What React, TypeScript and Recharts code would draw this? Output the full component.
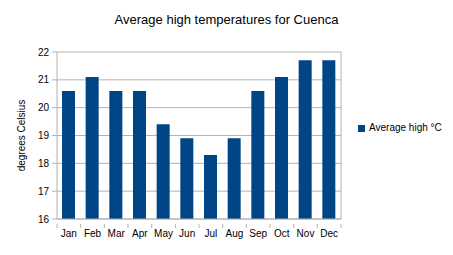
import React from "react";
import { BarChart, Bar, XAxis, YAxis, CartesianGrid, Legend } from "recharts";

const months = ["Jan", "Feb", "Mar", "Apr", "May", "Jun", "Jul", "Aug", "Sep", "Oct", "Nov", "Dec"];
const highs = [20.6, 21.1, 20.6, 20.6, 19.4, 18.9, 18.3, 18.9, 20.6, 21.1, 21.7, 21.7];
const yTicks = [16, 17, 18, 19, 20, 21, 22];

const data = months.map((m, i) => ({ name: m, high: highs[i] }));

const FONT = "'Liberation Sans', Arial, sans-serif";
const GRID = "#b3b3b3";
const BAND = 284 / 12;

const MonthTick = (props: any) => {
  const { x, y, payload, index } = props;
  return (
    <g>
      <line x1={x - BAND / 2} y1={y - 3} x2={x - BAND / 2} y2={y + 1} stroke={GRID} />
      {index === months.length - 1 && (
        <line x1={x + BAND / 2} y1={y - 3} x2={x + BAND / 2} y2={y + 1} stroke={GRID} />
      )}
      <text x={x} y={y + 10} textAnchor="middle" fontSize={10} fill="#000" fontFamily={FONT}>
        {payload.value}
      </text>
    </g>
  );
};

const AxisTitle = (props: any) => {
  const vb = props.viewBox || {};
  const cy = (vb.y ?? 52) + (vb.height ?? 167) / 2;
  return (
    <text x={25} y={cy} transform={`rotate(-90, 25, ${cy})`} textAnchor="middle" fontSize={10} fill="#000" fontFamily={FONT}>
      degrees Celsius
    </text>
  );
};

export default function App() {
  return (
    <div style={{ position: "absolute", left: 0, top: 0, width: 453, height: 255, background: "#fff", fontFamily: FONT }}>
      <div style={{ position: "absolute", top: 12, left: 0, width: 453, textAlign: "center", fontSize: 13, color: "#000" }}>
        Average high temperatures for Cuenca
      </div>
      <BarChart
        width={453}
        height={255}
        data={data}
        margin={{ top: 52, right: 17, left: 0, bottom: 0 }}
        barSize={13}
      >
        <CartesianGrid
          stroke={GRID}
          verticalCoordinatesGenerator={({ offset }: any) => [offset.left + offset.width]}
        />
        <XAxis
          dataKey="name"
          stroke={GRID}
          tickLine={false}
          tick={<MonthTick />}
          height={36}
          interval={0}
        />
        <YAxis
          domain={[16, 22]}
          ticks={yTicks}
          stroke={GRID}
          width={57}
          tickSize={5}
          tickMargin={3}
          tick={{ fill: "#000", fontSize: 10, fontFamily: FONT }}
          label={<AxisTitle />}
        />
        <Legend
          layout="vertical"
          align="right"
          verticalAlign="middle"
          iconType="square"
          iconSize={7}
          wrapperStyle={{ width: 95, left: 358, fontSize: 10, fontFamily: FONT }}
          formatter={(v: string) => <span style={{ color: "#000" }}>{v}</span>}
        />
        <Bar dataKey="high" name="Average high °C" fill="#004586" isAnimationActive={false} />
      </BarChart>
    </div>
  );
}
